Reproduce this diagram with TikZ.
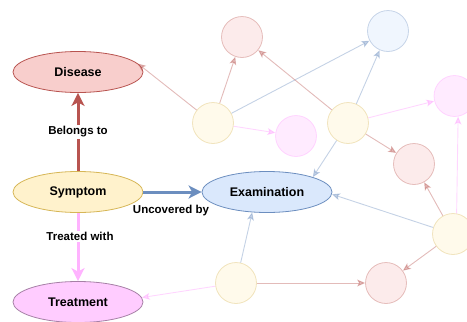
\documentclass[tikz,border=0pt]{standalone}
\usepackage{fontspec}
\setmainfont{Liberation Sans}
\usetikzlibrary{shapes.geometric,arrows.meta}
\definecolor{redfill}{HTML}{F8CECC}
\definecolor{redline}{HTML}{B85450}
\definecolor{yelfill}{HTML}{FFF2CC}
\definecolor{yelline}{HTML}{D6B656}
\definecolor{bluefill}{HTML}{DAE8FC}
\definecolor{blueline}{HTML}{6C8EBF}
\definecolor{pinkfill}{HTML}{FFCCFF}
\definecolor{pinkline}{HTML}{FF99FF}
\definecolor{pinkmain}{HTML}{FFB3FF}
\definecolor{purpline}{HTML}{A680A6}
\tikzset{
  mainnode/.style={ellipse, minimum width=130pt, minimum height=41pt, inner sep=0pt,
    line width=0.8pt, font=\fontsize{12.5}{15}\selectfont\bfseries},
  smallc/.style={circle, minimum size=41pt, inner sep=0pt, line width=0.8pt,
    draw opacity=0.35, fill opacity=0.4},
  cred/.style={smallc, draw=redline, fill=redfill},
  cyel/.style={smallc, draw=yelline, fill=yelfill},
  cblue/.style={smallc, draw=blueline, fill=bluefill},
  cpink/.style={smallc, draw=pinkline, fill=pinkfill},
  mainedge/.style={line width=3pt, -{Stealth[length=13pt,width=13pt,inset=3.5pt]}},
  faint/.style={line width=0.9pt, opacity=0.4, -{Stealth[length=8pt,width=7pt,inset=2pt]}},
  elabel/.style={fill=white, inner sep=1.5pt, font=\fontsize{11.5}{13}\selectfont\bfseries}
}
\begin{document}
\begin{tikzpicture}[x=1pt,y=-1pt]
\useasboundingbox (0,0) rectangle (467,322);
% small circles
\node[cred]  (c1)  at (242,37) {};
\node[cblue] (c2)  at (388,31) {};
\node[cyel]  (c3)  at (213,123) {};
\node[cpink] (c4)  at (296,136) {};
\node[cyel]  (c5)  at (348,123) {};
\node[cpink] (c6)  at (454.5,96) {};
\node[cred]  (c7)  at (414,164) {};
\node[cyel]  (c8)  at (453,234) {};
\node[cred]  (c9)  at (386,283) {};
\node[cyel]  (c10) at (236,283) {};
% main nodes
\node[mainnode, draw=redline, fill=redfill]   (dis) at (78,72)  {Disease};
\node[mainnode, draw=yelline, fill=yelfill]   (sym) at (78,192) {Symptom};
\node[mainnode, draw=blueline, fill=bluefill] (ex)  at (267,192) {Examination};
\node[mainnode, draw=purpline, fill=pinkfill] (tr)  at (78,302) {Treatment};
% faint edges
\draw[faint, draw=redline]  (c3) -- (dis.8);
\draw[faint, draw=redline]  (c3) -- (c1);
\draw[faint, draw=blueline] (c3) -- (c2);
\draw[faint, draw=pinkline] (c3) -- (c4);
\draw[faint, draw=redline]  (c5) -- (c1);
\draw[faint, draw=blueline] (c5) -- (c2);
\draw[faint, draw=pinkline] (c5) -- (c6);
\draw[faint, draw=redline]  (c5) -- (c7);
\draw[faint, draw=blueline] (c5) -- (ex.18);
\draw[faint, draw=pinkline] (c8.80) -- (c6.-80);
\draw[faint, draw=redline]  (c8) -- (c7);
\draw[faint, draw=blueline] (c8) -- (ex.-2);
\draw[faint, draw=redline]  (c8) -- (c9);
\draw[faint, draw=blueline] (c10) -- (ex.234);
\draw[faint, draw=redline]  (c10) -- (c9);
\draw[faint, draw=pinkline] (c10) -- (tr.4);
% main edges
\draw[mainedge, draw=redline, color=redline] (sym) -- (dis) node[elabel, text=black, pos=0.5] (l1) {Belongs to};
\draw[mainedge, draw=blueline, color=blueline] (sym) -- (ex);
\node[elabel, fill=none, text=black] (l2) at (171,211) {Uncovered by};
\draw[mainedge, draw=pinkmain, color=pinkmain] (sym) -- (tr) node[elabel, text=black, pos=0.35, xshift=2pt] (l3) {Treated with};
\end{tikzpicture}
\end{document}
